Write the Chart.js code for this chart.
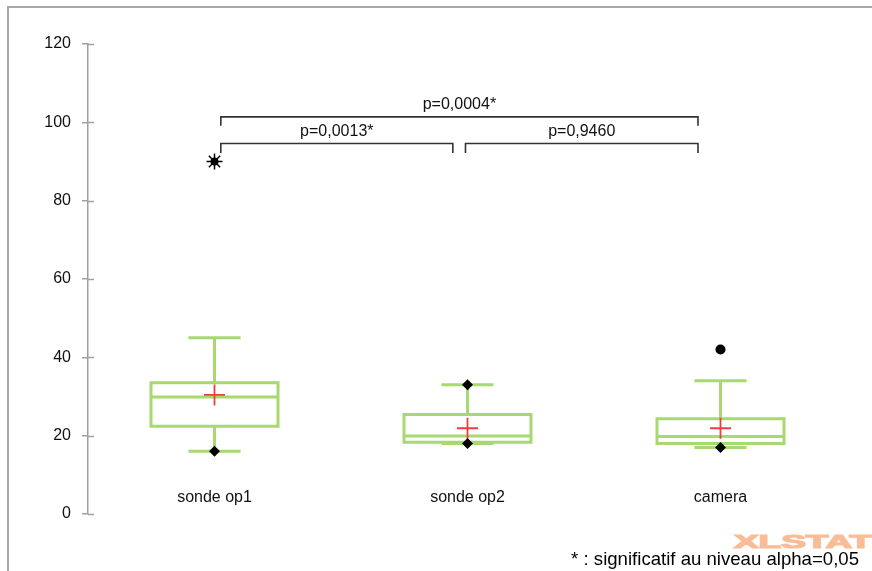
<!DOCTYPE html>
<html>
<head>
<meta charset="utf-8">
<script src="https://cdn.jsdelivr.net/npm/chart.js@4/dist/chart.umd.min.js"></script>
<style>
  body { margin: 0; background: #fff; }
</style>
</head>
<body>
<canvas id="chart" width="872" height="571"></canvas>
<script>
// categories and box statistics
const categories = ['sonde op1', 'sonde op2', 'camera'];
const whiskerLow = [16, 18, 17];
const q1 = [22.4, 18.3, 18.0];
const median = [29.9, 19.9, 19.8];
const q3 = [33.5, 25.4, 24.3];
const whiskerHigh = [45, 33, 34];
const means = [30.4, 21.9, 21.9];

// min / max markers
const diamondCat = [0, 1, 1, 2];
const diamondVal = [16, 18, 33, 17];
const outlierCat = [2];
const outlierVal = [42];
const extremeCat = [0];
const extremeVal = [90];

// comparisons
const bracketFrom = [0.025, 0.025, 0.992];
const bracketTo = [1.911, 0.942, 1.911];
const bracketLevel = [101.4, 94.6, 94.6];
const bracketDrop = [99.1, 92.2, 92.2];
const bracketLabels = ['p=0,0004*', 'p=0,0013*', 'p=0,9460'];

const yTicks = [0, 20, 40, 60, 80, 100, 120];
const footnote = '* : significatif au niveau alpha=0,05';

const green = '#a8d870';
const boxHalf = 0.251;
const capHalf = 0.103;

function seg(points, color, width) {
  return {
    type: 'line', data: points, borderColor: color, borderWidth: width, order: 3,
    pointRadius: 0, fill: false, tension: 0, borderJoinStyle: 'miter', borderCapStyle: 'butt'
  };
}

let datasets = [];
categories.forEach(function(c, i) {
  // whiskers
  datasets.push(seg([{x: i, y: q3[i]}, {x: i, y: whiskerHigh[i]}], green, 3));
  datasets.push(seg([{x: i, y: q1[i]}, {x: i, y: whiskerLow[i]}], green, 3));
  datasets.push(seg([{x: i - capHalf, y: whiskerHigh[i]}, {x: i + capHalf, y: whiskerHigh[i]}], green, 3));
  datasets.push(seg([{x: i - capHalf, y: whiskerLow[i]}, {x: i + capHalf, y: whiskerLow[i]}], green, 3));
  // box
  datasets.push(seg([
    {x: i - boxHalf, y: q1[i]}, {x: i + boxHalf, y: q1[i]},
    {x: i + boxHalf, y: q3[i]}, {x: i - boxHalf, y: q3[i]},
    {x: i - boxHalf, y: q1[i]}, {x: i + boxHalf, y: q1[i]}
  ], green, 3));
  datasets.push(seg([{x: i - boxHalf, y: median[i]}, {x: i + boxHalf, y: median[i]}], green, 3));
});

// means
datasets.push({
  type: 'scatter', data: means.map((m, i) => ({x: i, y: m})), order: 2,
  pointStyle: 'cross', pointRadius: 10.5, borderColor: '#f03c3c', borderWidth: 1.8, backgroundColor: '#f03c3c'
});
// diamonds (min / max)
datasets.push({
  type: 'scatter', data: diamondCat.map((c, k) => ({x: c, y: diamondVal[k]})), order: 1,
  pointStyle: 'rectRot', pointRadius: 5.5, backgroundColor: '#000', borderColor: '#000', borderWidth: 0
});
// outlier
datasets.push({
  type: 'scatter', data: outlierCat.map((c, k) => ({x: c, y: outlierVal[k]})), order: 1,
  pointStyle: 'circle', pointRadius: 5, backgroundColor: '#000', borderColor: '#000', borderWidth: 0
});
// extreme value
datasets.push({
  type: 'scatter', data: extremeCat.map((c, k) => ({x: c, y: extremeVal[k]})), order: 1,
  pointStyle: 'star', pointRadius: 8, backgroundColor: '#000', borderColor: '#000', borderWidth: 1.5
});
datasets.push({
  type: 'scatter', data: extremeCat.map((c, k) => ({x: c, y: extremeVal[k]})), order: 0,
  pointStyle: 'circle', pointRadius: 4, backgroundColor: '#000', borderColor: '#000', borderWidth: 0
});
// brackets
bracketLabels.forEach(function(l, k) {
  datasets.push(seg([
    {x: bracketFrom[k], y: bracketDrop[k]}, {x: bracketFrom[k], y: bracketLevel[k]},
    {x: bracketTo[k], y: bracketLevel[k]}, {x: bracketTo[k], y: bracketDrop[k]}
  ], '#333', 1.6));
});

const extras = {
  id: 'extras',
  beforeDraw(chart) {
    const ctx = chart.ctx;
    ctx.save();
    ctx.strokeStyle = '#a8a8a8';
    ctx.lineWidth = 2;
    ctx.beginPath();
    ctx.moveTo(8, 571);
    ctx.lineTo(8, 7);
    ctx.lineTo(872, 7);
    ctx.stroke();
    // watermark, under everything
    ctx.fillStyle = 'rgb(250,188,150)';
    ctx.strokeStyle = 'rgb(250,188,150)';
    ctx.lineWidth = 1.2;
    ctx.font = 'bold 18px "Liberation Sans", Arial, sans-serif';
    ctx.textBaseline = 'alphabetic';
    ctx.translate(734, 548);
    ctx.scale(2.05, 1);
    ctx.fillText('XLSTAT', 0, 0);
    ctx.strokeText('XLSTAT', 0, 0);
    ctx.restore();
  },
  afterDraw(chart) {
    const ctx = chart.ctx;
    const xs = chart.scales.x, ys = chart.scales.y;
    ctx.save();
    // inner half of the crossing ticks
    ctx.strokeStyle = '#a0a0a0';
    ctx.lineWidth = 1.5;
    yTicks.forEach(function(t) {
      const py = Math.round(ys.getPixelForValue(t)) + 0.5;
      ctx.beginPath();
      ctx.moveTo(xs.left, py);
      ctx.lineTo(xs.left + 6, py);
      ctx.stroke();
    });
    // category labels
    ctx.fillStyle = '#111';
    ctx.font = '16px "Liberation Sans", Arial, sans-serif';
    ctx.textAlign = 'center';
    ctx.textBaseline = 'middle';
    categories.forEach(function(c, i) {
      ctx.fillText(c, xs.getPixelForValue(i), ys.getPixelForValue(0) - 16);
    });
    // bracket labels
    bracketLabels.forEach(function(l, k) {
      const px = (xs.getPixelForValue(bracketFrom[k]) + xs.getPixelForValue(bracketTo[k])) / 2;
      ctx.fillText(l, px, ys.getPixelForValue(bracketLevel[k]) - 12);
    });
    // footnote
    ctx.fillStyle = '#000';
    ctx.font = '18.6px "Liberation Sans", Arial, sans-serif';
    ctx.textAlign = 'right';
    ctx.textBaseline = 'alphabetic';
    ctx.fillText(footnote, 859, 565);
    ctx.restore();
  }
};

new Chart(document.getElementById('chart'), {
  type: 'scatter',
  data: { datasets: datasets },
  options: {
    responsive: false,
    animation: false,
    layout: { padding: { left: 0, top: 44, right: 25, bottom: 57 } },
    plugins: { legend: { display: false }, tooltip: { enabled: false } },
    scales: {
      x: { type: 'linear', min: -0.5, max: 2.5, display: false },
      y: {
        type: 'linear', min: 0, max: 120,
        afterFit: function(scale) { scale.width = 88; },
        afterBuildTicks: function(scale) { scale.ticks = yTicks.map(v => ({value: v})); },
        grid: { drawOnChartArea: false, tickLength: 6, color: '#a0a0a0', lineWidth: 1.5 },
        border: { color: '#a0a0a0', width: 1.5 },
        ticks: { padding: 11, color: '#111', font: { family: '"Liberation Sans", Arial, sans-serif', size: 16 } }
      }
    }
  },
  plugins: [extras]
});
</script>
</body>
</html>
